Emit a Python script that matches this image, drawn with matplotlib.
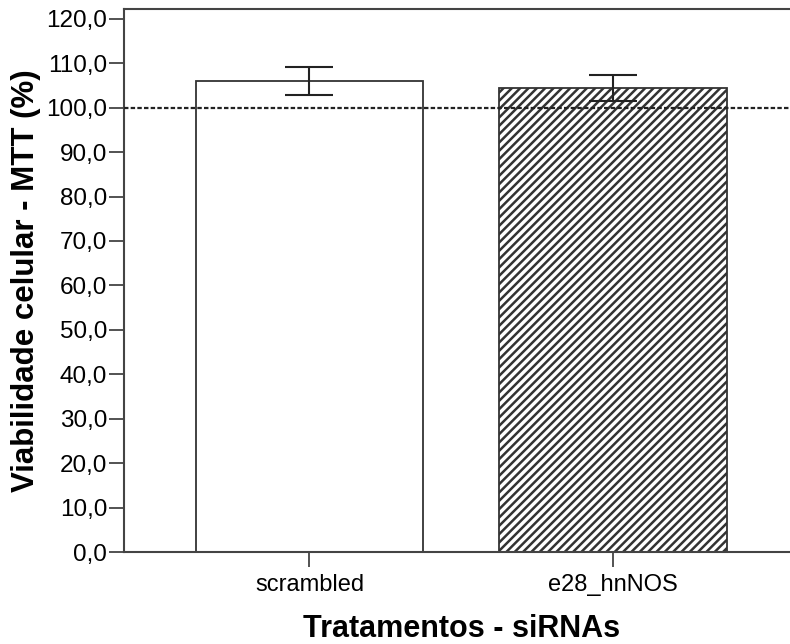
import numpy as np
import matplotlib.pyplot as plt

# dados
tratamentos = ['scrambled', 'e28_hnNOS']
viabilidade = [106.0, 104.4]   # média (%)
erro = [3.05, 2.95]            # barra de erro
hachuras = ['', '////']
referencia = 100.0
yticks = np.arange(0, 121, 10)

plt.rcParams['font.family'] = ['Liberation Sans', 'DejaVu Sans']
plt.rcParams['hatch.linewidth'] = 1.8
plt.rcParams['hatch.color'] = '#111111'

fig = plt.figure(figsize=(7.9, 6.44), dpi=100)
ax = fig.add_axes([124/790, 92/644, 676/790, 543/644])

x = np.arange(len(tratamentos))
for xi, v, h in zip(x, viabilidade, hachuras):
    ax.bar(xi, v, width=0.75, color='white', edgecolor='#333333',
           linewidth=1.3, hatch=h, zorder=2)
ax.errorbar(x, viabilidade, yerr=erro, fmt='none', ecolor='#222222',
            elinewidth=1.5, capsize=17.6, capthick=1.5, zorder=4)

# linha de referência em 100%
ax.axhline(referencia, color='#222222', linewidth=1.6,
           linestyle=(0, (2, 1)), zorder=3)

ax.set_xlim(-0.611, 1.616)
ax.set_ylim(0, 122.2)
ax.set_xticks(x)
ax.set_xticklabels(tratamentos, fontsize=17)
ax.set_yticks(yticks)
ax.set_yticklabels([f'{v:.1f}'.replace('.', ',') for v in yticks], fontsize=17.5)

for s in ['left', 'bottom', 'top']:
    ax.spines[s].set_color('#444444')
    ax.spines[s].set_linewidth(1.5)
ax.spines['right'].set_visible(False)
ax.tick_params(axis='both', length=11, width=1.3, color='#444444')
ax.tick_params(axis='x', pad=5)
ax.tick_params(axis='y', pad=1)

ax.set_xlabel('Tratamentos - siRNAs', fontsize=22, fontweight='bold', labelpad=13)
ax.set_ylabel('Viabilidade celular - MTT (%)', fontsize=22.5, fontweight='bold', labelpad=4)

fig.savefig('out.png', dpi=100)
